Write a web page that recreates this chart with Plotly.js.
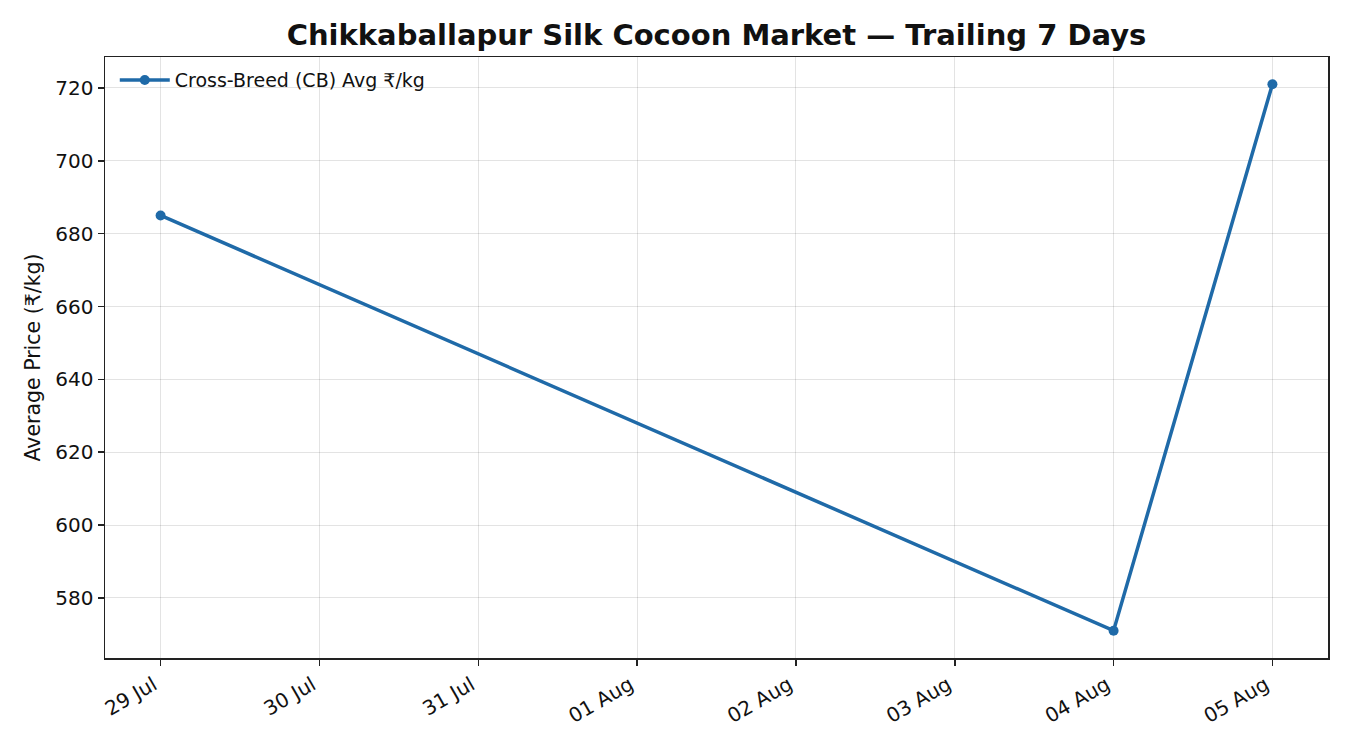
<!DOCTYPE html>
<html>
<head>
<meta charset="utf-8">
<script src="https://cdn.plot.ly/plotly-3.0.1.min.js"></script>
<style>
  html, body { margin: 0; padding: 0; background: #fff; }
  #chart { width: 1350px; height: 750px; }
</style>
</head>
<body>
<div id="chart"></div>
<script>
// observed prices (CB avg, rupees per kg)
const dates = ['2024-07-29', '2024-08-04', '2024-08-05'];
const prices = [685, 571, 721];

// daily ticks shown on the x axis
const tickDates = ['2024-07-29', '2024-07-30', '2024-07-31', '2024-08-01',
                   '2024-08-02', '2024-08-03', '2024-08-04', '2024-08-05'];
const tickLabels = ['29 Jul', '30 Jul', '31 Jul', '01 Aug', '02 Aug', '03 Aug', '04 Aug', '05 Aug'];
const yTicks = [580, 600, 620, 640, 660, 680, 700, 720];

const lineColor = '#1f6aa8';
const font = 'DejaVu Sans, sans-serif';

// matplotlib-like 5% padding on both axes
const t0 = Date.parse(dates[0]), t1 = Date.parse(dates[dates.length - 1]);
const xPad = (t1 - t0) * 0.05;
const yMin = Math.min(...prices), yMax = Math.max(...prices);
const yPad = (yMax - yMin) * 0.05;

const trace = {
    x: dates, y: prices,
    type: 'scatter', mode: 'lines+markers',
    name: 'Cross-Breed (CB) Avg ₹/kg',
    line: { color: lineColor, width: 3.5 },
    marker: { color: lineColor, size: 10 }
};

const axisCommon = {
    showline: true, linecolor: '#222', linewidth: 1.5, mirror: true,
    ticks: 'outside', ticklen: 6, tickwidth: 1.5, tickcolor: '#222',
    showgrid: true, gridcolor: 'rgba(0,0,0,0.11)', gridwidth: 1,
    zeroline: false,
    tickfont: { family: font, size: 20, color: '#111' }
};

const layout = {
    width: 1350, height: 750,
    paper_bgcolor: '#fff', plot_bgcolor: '#fff',
    margin: { l: 105, r: 22, t: 57, b: 92 },
    font: { family: font, color: '#111' },
    title: {
        text: '<b>Chikkaballapur Silk Cocoon Market — Trailing 7 Days</b>',
        font: { family: font, size: 29, color: '#111' },
        xref: 'paper', x: 0.5, xanchor: 'center', y: 0.953, yanchor: 'middle'
    },
    xaxis: Object.assign({}, axisCommon, {
        type: 'date',
        range: [t0 - xPad, t1 + xPad],
        tickmode: 'array', tickvals: tickDates, ticktext: tickLabels,
        tickangle: -30, ticklabelshift: -7
    }),
    yaxis: Object.assign({}, axisCommon, {
        range: [yMin - yPad, yMax + yPad],
        tickmode: 'array', tickvals: yTicks,
        title: { text: 'Average Price (₹/kg)', font: { family: font, size: 20.5, color: '#111' }, standoff: 9 }
    }),
    showlegend: true,
    legend: {
        x: 0.008, y: 0.993, xanchor: 'left', yanchor: 'top',
        bgcolor: 'rgba(255,255,255,0)', borderwidth: 0,
        itemwidth: 50,
        font: { family: font, size: 19, color: '#111' }
    }
};

Plotly.newPlot('chart', [trace], layout, { displayModeBar: false, staticPlot: true });
</script>
</body>
</html>
